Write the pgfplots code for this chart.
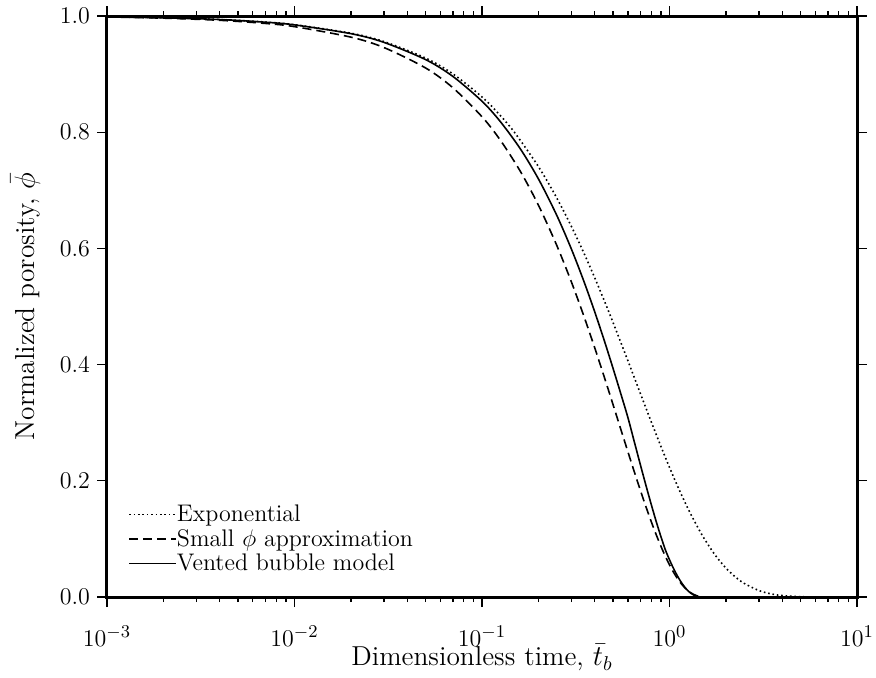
\documentclass[border=0pt]{standalone}
\usepackage{pgfplots}
\pgfplotsset{compat=1.18}

\begin{document}
\begin{tikzpicture}
\begin{axis}[
  scale only axis, width=375pt, height=290.5pt,
  xmode=log, log basis x=10, xmin=1e-3, xmax=10, ymin=0, ymax=1,
  ytick={0,0.2,0.4,0.6,0.8,1.0}, minor y tick num=0,
  yticklabel style={/pgf/number format/.cd,fixed,fixed zerofill,precision=1},
  tick align=outside, major tick length=5pt, minor tick length=2.5pt,
  every tick/.style={black,line width=0.6pt},
  axis line style={line width=1.5pt},
  tick label style={font=\fontsize{13}{16}\selectfont},
  xticklabel style={yshift=-6pt,text depth=0pt},
  label style={font=\fontsize{13.7}{16}\selectfont},
  xlabel={Dimensionless time, $\bar{t}_b$},
  xlabel style={yshift=8pt},
  ylabel={Normalized porosity, $\bar{\phi}$},
  ylabel shift=3pt,
  legend style={draw=none,fill=none,at={(0.028,0.041)},anchor=south west,
    font=\fontsize{12}{12}\selectfont,inner sep=0pt,
    nodes={inner sep=0pt,text depth=0.1em},row sep=2.9pt},
  legend cell align=left,
  legend image code/.code={\draw[#1] (0pt,0pt) -- (23.5pt,0pt);},
  every axis legend/.append style={/tikz/every even column/.style={column sep=6.5pt}},
]
\coordinate (sw) at (rel axis cs:0,0);
\coordinate (ne) at (rel axis cs:1,1);
% exponential
\addplot[black,line width=0.8pt,dash pattern=on 0.8pt off 1.4pt,smooth] coordinates {
(0.001,0.9985)(0.002,0.997)(0.004,0.9940)(0.007,0.9896)(0.01,0.9851)(0.02,0.9704)
(0.03,0.9560)(0.05,0.9277)(0.07,0.9003)(0.1,0.8607)(0.125,0.8290)(0.15,0.7985)
(0.2,0.7408)(0.25,0.6873)(0.3,0.6376)(0.35,0.5916)(0.4,0.5488)(0.45,0.5092)
(0.5,0.4724)(0.6,0.4066)(0.7,0.3499)(0.8,0.3012)(0.9,0.2592)(1.0,0.2231)
(1.1,0.1920)(1.2,0.1653)(1.3,0.1423)(1.5,0.1054)(1.75,0.0724)(2.0,0.0498)
(2.25,0.0342)(2.5,0.0235)(3.0,0.0111)(3.5,0.0052)(4.0,0.0025)(5.0,0.00055)
(6.0,0.00012)(8.0,0)};
\addlegendentry{Exponential}
% small phi approximation
\addplot[black,line width=0.8pt,dash pattern=on 4.5pt off 2.5pt,smooth] coordinates {
(0.001,0.9982)(0.002,0.9963)(0.004,0.9926)(0.007,0.9872)(0.01,0.9817)(0.02,0.9636)
(0.03,0.9457)(0.05,0.9106)(0.07,0.8764)(0.1,0.8266)(0.125,0.7867)(0.16,0.7329)
(0.2,0.6744)(0.25,0.6058)(0.3,0.5420)(0.35,0.4828)(0.4,0.4280)(0.45,0.3775)
(0.5,0.3311)(0.55,0.2886)(0.6,0.2500)(0.65,0.2149)(0.7,0.1832)(0.75,0.1548)
(0.8,0.1294)(0.85,0.1070)(0.9,0.0873)(0.95,0.0702)(1.0,0.0554)(1.05,0.0428)
(1.1,0.0323)(1.15,0.0237)(1.2,0.0168)(1.25,0.0113)(1.3,0.0072)(1.35,0.0042)
(1.4,0.0022)(1.45,0.0009)(1.5,0.0003)(1.6,0)};
\addlegendentry{Small $\phi$ approximation}
% vented bubble model
\addplot[black,line width=0.8pt,smooth] coordinates {
(0.001,0.9985)(0.002,0.9969)(0.004,0.9939)(0.007,0.9893)(0.01,0.9847)(0.02,0.9696)
(0.03,0.9546)(0.05,0.9250)(0.07,0.8959)(0.1,0.8533)(0.125,0.8186)(0.16,0.7715)
(0.2,0.7196)(0.25,0.6575)(0.3,0.5986)(0.35,0.5428)(0.4,0.4900)(0.45,0.4403)
(0.5,0.3935)(0.55,0.3498)(0.6,0.3089)(0.65,0.2664)(0.7,0.2272)(0.75,0.1913)
(0.8,0.1588)(0.85,0.1296)(0.9,0.1039)(0.95,0.0814)(1.0,0.0641)(1.05,0.0493)
(1.1,0.0367)(1.15,0.0263)(1.2,0.0179)(1.25,0.0113)(1.3,0.0065)(1.35,0.0032)
(1.4,0.0012)(1.45,0.0002)(1.5,0)};
\addlegendentry{Vented bubble model}
\end{axis}
% frame the page like the reference: fixed margins round the axis box
\pgfresetboundingbox
\path ([shift={(-53.5pt,-40pt)}]sw) rectangle ([shift={(9.5pt,8pt)}]ne);
\end{tikzpicture}
\end{document}
